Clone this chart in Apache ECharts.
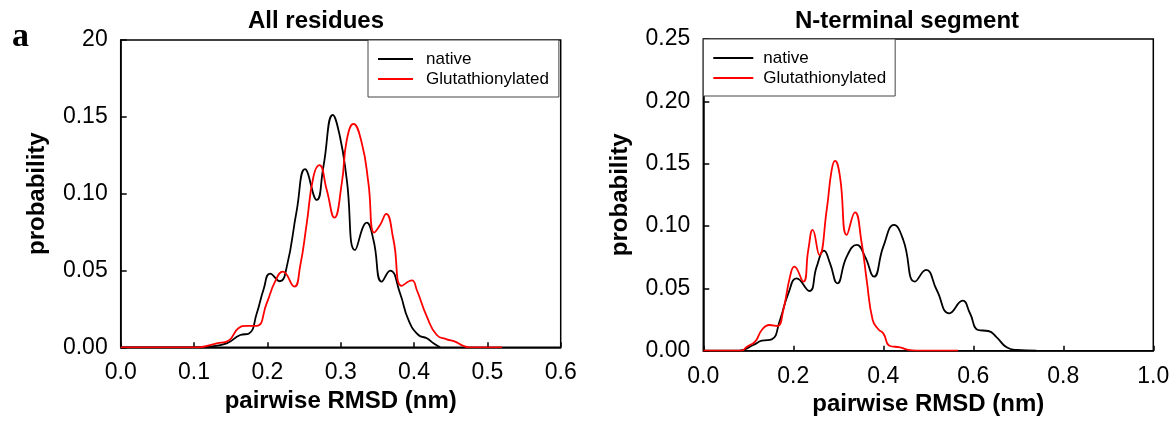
<!DOCTYPE html>
<html>
<head>
<meta charset="utf-8">
<script src="https://cdn.jsdelivr.net/npm/echarts@6/dist/echarts.min.js"></script>
<style>
  html, body { margin: 0; padding: 0; background: #fff; }
  #chart { width: 1176px; height: 425px; }
</style>
</head>
<body>
<div id="chart"></div>
<script>
// series names
const seriesNames = ['native', 'Glutathionylated']

// All residues: [pairwise RMSD, probability]
const allNative = [
  [0, 0], [0.1, 0], [0.12, 0.0005], [0.1445, 0.0026], [0.163, 0.008], [0.175, 0.009],
  [0.1855, 0.022], [0.195, 0.038], [0.2037, 0.048], [0.217, 0.043], [0.2265, 0.0525],
  [0.24, 0.089], [0.2514, 0.1159], [0.2674, 0.0959], [0.2764, 0.1176], [0.2892, 0.1512],
  [0.299, 0.137], [0.3083, 0.109], [0.3196, 0.0633], [0.3356, 0.0811], [0.3446, 0.07],
  [0.356, 0.0427], [0.3674, 0.0499], [0.381, 0.035], [0.3924, 0.0178], [0.406, 0.008],
  [0.4175, 0.0059], [0.4265, 0.0026], [0.4356, 0]
]
const allGlut = [
  [0, 0], [0.105, 0], [0.131, 0.0026], [0.1468, 0.0043], [0.1605, 0.0124], [0.172, 0.0139],
  [0.1855, 0.0139], [0.199, 0.0286], [0.2105, 0.0427], [0.221, 0.0492], [0.2368, 0.0395],
  [0.2446, 0.0525], [0.2537, 0.0807], [0.2628, 0.111], [0.271, 0.1185], [0.281, 0.1024],
  [0.2914, 0.0844], [0.3015, 0.1068], [0.3083, 0.135], [0.3174, 0.1454], [0.3288, 0.1328],
  [0.3378, 0.1068], [0.3456, 0.0746], [0.3537, 0.0796], [0.362, 0.0868], [0.372, 0.0698],
  [0.3833, 0.04], [0.397, 0.0435], [0.4038, 0.0373], [0.4175, 0.0199], [0.431, 0.008],
  [0.4447, 0.0052], [0.456, 0.0037], [0.467, 0.001], [0.475, 0], [0.52, 0]
]

// N-terminal segment
const ntNative = [
  [0, 0], [0.08, 0], [0.111, 0.0046], [0.13, 0.008], [0.152, 0.0091], [0.1704, 0.0246],
  [0.189, 0.046], [0.2075, 0.058], [0.2356, 0.0479], [0.252, 0.0674], [0.2682, 0.0803],
  [0.2816, 0.0701], [0.2978, 0.054], [0.3187, 0.0755], [0.341, 0.0848], [0.3593, 0.0755],
  [0.3793, 0.0594], [0.4, 0.0835], [0.4237, 0.1009], [0.4444, 0.0888], [0.4704, 0.0554],
  [0.4949, 0.0648], [0.5187, 0.0487], [0.5467, 0.03], [0.5764, 0.0401], [0.5926, 0.03],
  [0.611, 0.0166], [0.6333, 0.0158], [0.652, 0.0107], [0.674, 0.0027], [0.6964, 0.0006],
  [0.74, 0]
]
const ntGlut = [
  [0, 0], [0.085, 0], [0.0963, 0.003], [0.115, 0.0072], [0.13, 0.0166], [0.1467, 0.0206],
  [0.1644, 0.0198], [0.1778, 0.0327], [0.1927, 0.0594], [0.2022, 0.0674], [0.2222, 0.0554],
  [0.2333, 0.0808], [0.243, 0.0969], [0.2578, 0.0768], [0.2742, 0.1129], [0.2853, 0.145],
  [0.2927, 0.1522], [0.3037, 0.1397], [0.3187, 0.0929], [0.3371, 0.111], [0.352, 0.0862],
  [0.3631, 0.0567], [0.3764, 0.0246], [0.3889, 0.0172], [0.4, 0.0139], [0.4148, 0.0038],
  [0.437, 0.0027], [0.4556, 0.0006], [0.474, 0], [0.566, 0]
]

// tick labels (the left panel's top label reads "20" in the original)
const allYTicks = ['0.00', '0.05', '0.10', '0.15', '20']
const ntYTicks = ['0.00', '0.05', '0.10', '0.15', '0.20', '0.25']

const font = 'Liberation Sans, Arial, sans-serif'
const colors = ['#000000', '#ff0000']

const myChart = echarts.init(document.getElementById('chart'))

const makeX = (gridIndex, max, interval) => ({
  type: 'value',
  gridIndex,
  min: 0,
  max,
  interval,
  name: 'pairwise RMSD (nm)',
  nameLocation: 'middle',
  nameGap: 42,
  nameTextStyle: { fontFamily: font, fontSize: 24, fontWeight: 'bold', color: '#000' },
  axisLine: { lineStyle: { color: '#000', width: 1.5 } },
  axisTick: { inside: true, length: 5, lineStyle: { color: '#000', width: 1.5 } },
  axisLabel: {
    margin: 14,
    fontFamily: font,
    fontSize: 23,
    color: '#000',
    formatter: (v) => v.toFixed(1),
  },
  splitLine: { show: false },
})

const makeY = (gridIndex, max, labels) => ({
  type: 'value',
  gridIndex,
  min: 0,
  max,
  interval: 0.05,
  name: 'probability',
  nameLocation: 'middle',
  nameGap: 71,
  nameTextStyle: { fontFamily: font, fontSize: 24, fontWeight: 'bold', color: '#000' },
  axisLine: { lineStyle: { color: '#000', width: 1.5 } },
  axisTick: { inside: true, length: 6, lineStyle: { color: '#000', width: 1.5 } },
  axisLabel: {
    margin: 13,
    fontFamily: font,
    fontSize: 23,
    color: '#000',
    formatter: (v) => labels[Math.round(v / 0.05)],
  },
  splitLine: { show: false },
})

// legend icon is a thin bar, like a plain line sample
const makeLegend = (left, top, padding, itemWidth, textPad) => ({
  data: seriesNames,
  orient: 'vertical',
  left,
  top,
  padding,
  icon: 'rect',
  itemWidth,
  itemHeight: 2,
  itemGap: 2,
  backgroundColor: '#fff',
  borderColor: '#444',
  borderWidth: 1,
  textStyle: {
    fontFamily: font,
    fontSize: 17,
    lineHeight: 18,
    color: '#000',
    padding: [0, 0, 0, textPad],
  },
})

const makeLine = (name, data, idx, color) => ({
  name,
  type: 'line',
  xAxisIndex: idx,
  yAxisIndex: idx,
  data,
  smooth: true,
  symbol: 'none',
  lineStyle: { color, width: 1.8 },
  itemStyle: { color },
  z: 3,
})

const option = {
  animation: false,
  title: [
    {
      text: 'All residues',
      left: 248,
      top: 9,
      padding: 0,
      textStyle: { fontFamily: font, fontSize: 24, fontWeight: 'bold', color: '#000' },
    },
    {
      text: 'N-terminal segment',
      left: 795,
      top: 9,
      padding: 0,
      textStyle: { fontFamily: font, fontSize: 24, fontWeight: 'bold', color: '#000' },
    },
    {
      text: 'a',
      left: 12,
      top: 20,
      padding: 0,
      textStyle: { fontFamily: 'Liberation Serif, Times New Roman, serif', fontSize: 34, fontWeight: 'bold', color: '#000' },
    },
  ],
  grid: [
    { left: 120.7, top: 40, width: 440, height: 307.3, show: true, borderColor: '#000', borderWidth: 1.5 },
    { left: 703.3, top: 39, width: 450, height: 311.7, show: true, borderColor: '#000', borderWidth: 1.5 },
  ],
  legend: [
    makeLegend(368, 40, [10, 10, 9, 10], 35, 8),
    makeLegend(703.3, 39, [10, 9, 9, 10], 40, 5),
  ],
  xAxis: [makeX(0, 0.6, 0.1), makeX(1, 1.0, 0.2)],
  yAxis: [makeY(0, 0.2, allYTicks), makeY(1, 0.25, ntYTicks)],
  series: [
    makeLine(seriesNames[0], allNative, 0, colors[0]),
    makeLine(seriesNames[1], allGlut, 0, colors[1]),
    makeLine(seriesNames[0], ntNative, 1, colors[0]),
    makeLine(seriesNames[1], ntGlut, 1, colors[1]),
  ],
}

myChart.setOption(option)
</script>
</body>
</html>
